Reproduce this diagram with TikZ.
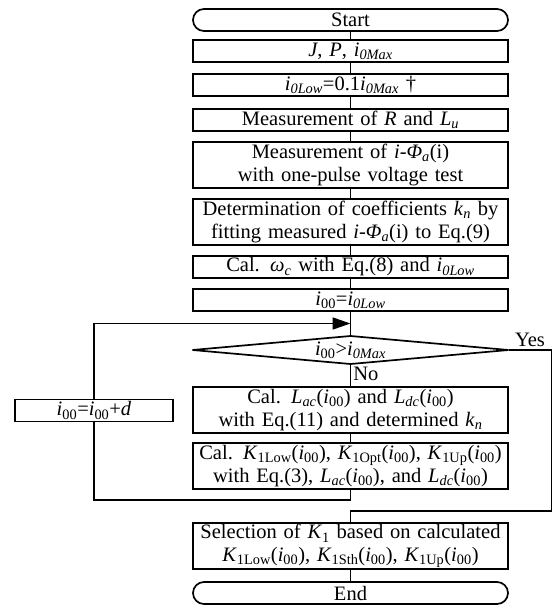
\documentclass[tikz,border=0pt]{standalone}
\usepackage{fontspec}
\setmainfont{Liberation Serif}
\usetikzlibrary{positioning,shapes.geometric,arrows.meta,calc}

\newcommand{\vr}[1]{\textit{#1}}
\newcommand{\ix}[1]{\textit{i}\textsubscript{#1}}

\begin{document}
\begin{tikzpicture}[x=1pt, y=1pt, node distance=11pt,
    font=\fontsize{20.5}{22.5}\selectfont,
    stepbox/.style={draw, line width=1.7pt, minimum width=315pt, minimum height=22pt,
      text width=311pt, inner sep=1pt, outer sep=0pt, align=center},
    termbox/.style={stepbox, rounded corners=11pt},
    decide/.style={draw, line width=1.7pt, diamond, aspect=11, inner sep=0pt, outer sep=0pt,
      minimum width=316pt, minimum height=28pt},
    line/.style={line width=1.7pt},
    arrow/.style={line, -{Triangle[length=18pt, width=12pt]}}]
    \useasboundingbox (0,0) rectangle (552,-605);

    \node[termbox] (start) at (350.5,-20) {Start};
    \node[stepbox, below=9pt of start] (jp) {\vr{J}, \vr{P}, \ix{\textit{0Max}}};
    \node[stepbox, below=12pt of jp] (ilow) {\ix{\textit{0Low}}=0.1\ix{\textit{0Max}} †};
    \node[stepbox, below=13pt of ilow] (measr) {Measurement of \vr{R} and \vr{L}\textsubscript{\textit{u}}};
    \node[stepbox, below=of measr, minimum height=46pt] (measphi) {Measurement of \vr{i}-\vr{Φ}\textsubscript{\textit{a}}(i)\\with one-pulse voltage test};
    \node[stepbox, below=of measphi, minimum height=46pt] (det) {Determination of coefficients \vr{k}\textsubscript{\textit{n}} by\\fitting measured \vr{i}-\vr{Φ}\textsubscript{\textit{a}}(i) to Eq.(9)};
    \node[stepbox, below=of det] (omega) {Cal. \vr{ω}\textsubscript{\textit{c}} with Eq.(8) and \ix{\textit{0Low}}};
    \node[stepbox, below=of omega] (init) {\ix{00}=\ix{\textit{0Low}}};
    \node[decide, below=25pt of init] (cond) {\ix{00}>\ix{\textit{0Max}}};
    \node[stepbox, below=23pt of cond, minimum height=46pt] (lac) {Cal. \vr{L}\textsubscript{\textit{ac}}(\ix{00}) and \vr{L}\textsubscript{\textit{dc}}(\ix{00})\\with Eq.(11) and determined \vr{k}\textsubscript{\textit{n}}};
    \node[stepbox, below=10pt of lac, minimum height=46pt] (kcal) {Cal. \vr{K}\textsubscript{1Low}(\ix{00}), \vr{K}\textsubscript{1Opt}(\ix{00}), \vr{K}\textsubscript{1Up}(\ix{00})\\with Eq.(3), \vr{L}\textsubscript{\textit{ac}}(\ix{00}), and \vr{L}\textsubscript{\textit{dc}}(\ix{00})};
    \node[stepbox, below=34pt of kcal, minimum height=46pt] (sel) {Selection of \vr{K}\textsubscript{1} based on calculated\\\vr{K}\textsubscript{1Low}(\ix{00}), \vr{K}\textsubscript{1Sth}(\ix{00}), \vr{K}\textsubscript{1Up}(\ix{00})};
    \node[termbox, below=13pt of sel] (stop) {End};
    \node[stepbox, minimum width=158pt, text width=154pt] (incr) at (94,-410.5) {\ix{00}=\ix{00}+\vr{d}};

    % loop and exit points
    \coordinate (join) at ($(init.south)!0.5!(cond.north)$);
    \coordinate[below=11pt of kcal.south] (loopd);
    \coordinate (loopl) at (incr |- loopd);
    \path (cond.east) ++(43,0) coordinate (yesr);
    \coordinate[above=12pt of sel.north] (yest);
    \coordinate (yesb) at (yesr |- yest);

    \foreach \a/\b in {start/jp, jp/ilow, ilow/measr, measr/measphi, measphi/det,
      det/omega, omega/init, init/cond, lac/kcal, sel/stop}
      \draw[line] (\a) -- (\b);
    \draw[line] (cond) -- node[right, pos=0.45, inner sep=2pt] {No} (lac);
    \draw[line] (kcal) -- (loopd) -- (loopl) -- (incr);
    \draw[arrow] (incr) -- (incr |- join) -- (join);
    \draw[line] (cond) -- node[above, inner sep=2pt] {Yes} (yesr) -- (yesb) -- (yest) -- (sel);
\end{tikzpicture}
\end{document}
